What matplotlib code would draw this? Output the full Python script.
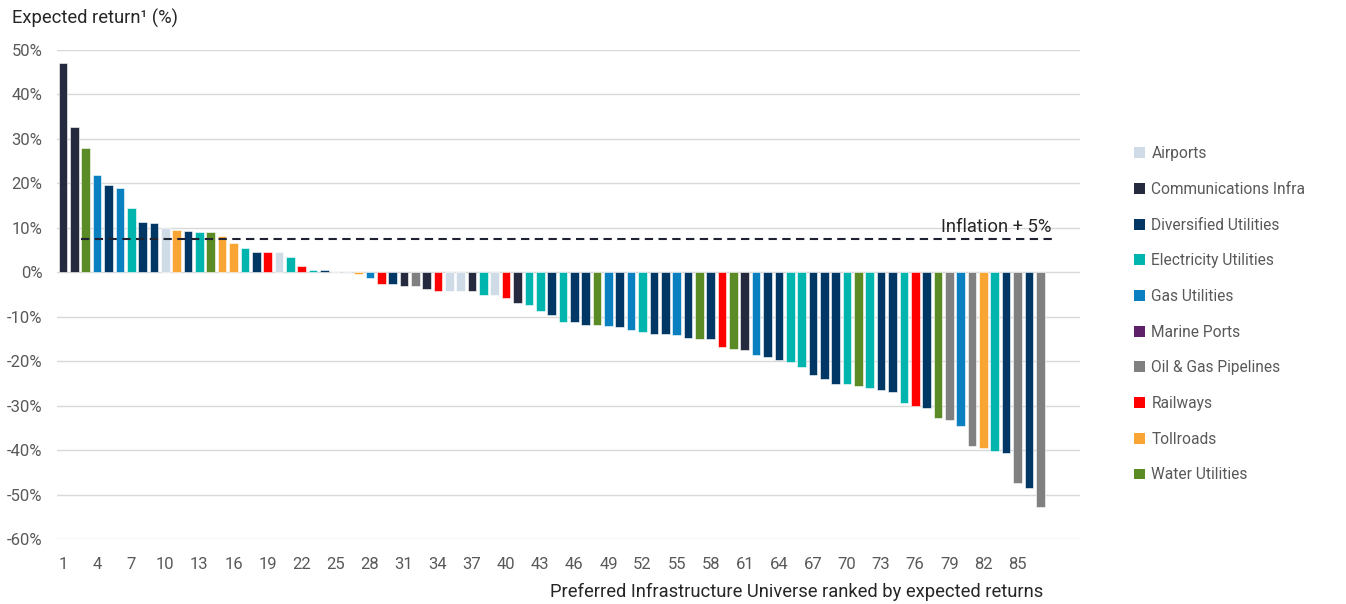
import matplotlib
matplotlib.use("Agg")
import matplotlib.pyplot as plt
from matplotlib.patches import Patch

plt.rcParams['font.family'] = ['Roboto', 'DejaVu Sans']

sectors = ["Airports", "Communications Infra", "Diversified Utilities",
           "Electricity Utilities", "Gas Utilities", "Marine Ports",
           "Oil & Gas Pipelines", "Railways", "Tollroads", "Water Utilities"]
sector_colors = ["#cfdce8", "#252a3e", "#003764", "#00b5ad", "#0a80c0",
                 "#5e2069", "#808080", "#ff0000", "#f9a533", "#5b8b24"]

ranks = list(range(1, 88))
bar_sector = [
    "Communications Infra", "Communications Infra", "Water Utilities", "Gas Utilities",
    "Diversified Utilities", "Gas Utilities", "Electricity Utilities", "Diversified Utilities",
    "Diversified Utilities", "Airports", "Tollroads", "Diversified Utilities",
    "Electricity Utilities", "Water Utilities", "Tollroads", "Tollroads",
    "Electricity Utilities", "Diversified Utilities", "Railways", "Airports",
    "Electricity Utilities", "Railways", "Electricity Utilities", "Diversified Utilities",
    "Airports", "Airports", "Tollroads", "Gas Utilities",
    "Railways", "Diversified Utilities", "Communications Infra", "Oil & Gas Pipelines",
    "Communications Infra", "Railways", "Airports", "Airports",
    "Communications Infra", "Electricity Utilities", "Airports", "Railways",
    "Communications Infra", "Electricity Utilities", "Electricity Utilities", "Diversified Utilities",
    "Electricity Utilities", "Diversified Utilities", "Diversified Utilities", "Water Utilities",
    "Gas Utilities", "Diversified Utilities", "Gas Utilities", "Electricity Utilities",
    "Diversified Utilities", "Diversified Utilities", "Gas Utilities", "Diversified Utilities",
    "Water Utilities", "Diversified Utilities", "Railways", "Water Utilities",
    "Communications Infra", "Gas Utilities", "Diversified Utilities", "Diversified Utilities",
    "Electricity Utilities", "Electricity Utilities", "Diversified Utilities", "Diversified Utilities",
    "Diversified Utilities", "Electricity Utilities", "Water Utilities", "Electricity Utilities",
    "Diversified Utilities", "Diversified Utilities", "Electricity Utilities", "Railways",
    "Diversified Utilities", "Water Utilities", "Oil & Gas Pipelines", "Gas Utilities",
    "Oil & Gas Pipelines", "Tollroads", "Electricity Utilities", "Diversified Utilities",
    "Oil & Gas Pipelines", "Diversified Utilities", "Oil & Gas Pipelines",
]
expected_return = [
    47.0, 32.6, 27.9, 21.9, 19.6, 19.0, 14.4, 11.3, 11.1, 10.0,
    9.5, 9.3, 9.1, 9.1, 8.2, 6.5, 5.5, 4.5, 4.5, 4.5,
    3.4, 1.4, 0.4, 0.4, 0.1, -0.1, -0.45, -1.4, -2.7, -2.7,
    -3.2, -3.2, -3.7, -4.3, -4.3, -4.3, -4.3, -5.0, -5.2, -5.8,
    -6.8, -7.3, -8.8, -9.6, -11.1, -11.2, -11.9, -11.9, -12.1, -12.4,
    -12.9, -13.4, -13.9, -13.9, -14.2, -14.8, -15.0, -15.0, -16.8, -17.3,
    -17.5, -18.6, -19.1, -19.8, -20.1, -21.3, -23.2, -24.0, -25.2, -25.2,
    -25.5, -26.0, -26.5, -27.0, -29.4, -30.1, -30.6, -32.7, -33.2, -34.5,
    -39.0, -39.6, -40.3, -40.6, -47.5, -48.5, -52.8,
]
inflation_plus_5 = 7.5
x_ticks = list(range(1, 86, 3))
y_ticks = list(range(-60, 51, 10))

color_map = dict(zip(sectors, sector_colors))
bar_colors = [color_map[s] for s in bar_sector]

fig = plt.figure(figsize=(13.46, 6.04), dpi=100)
ax = fig.add_axes([57/1346, 1 - 539/604, (1080 - 57)/1346, (539 - 50)/604])

ax.bar(ranks, expected_return, width=0.76, color=bar_colors,
       edgecolor="white", linewidth=0.4, zorder=3)

ax.set_xlim(0.47, 90.5)
ax.set_ylim(-60, 50)
ax.set_yticks(y_ticks)
ax.set_yticklabels([f"{v}%" for v in y_ticks])
ax.set_xticks(x_ticks)
ax.set_xticklabels([str(v) for v in x_ticks])
ax.grid(axis="y", color="#d9d9d9", linewidth=1.0, zorder=0)
ax.grid(axis="x", visible=False)
for sp in ax.spines.values():
    sp.set_visible(False)
ax.tick_params(axis="both", length=0, labelsize=12, labelcolor="#595959")
ax.tick_params(axis="y", pad=10.5)
ax.tick_params(axis="x", pad=13)

ax.hlines(inflation_plus_5, 2.56, 88.5, colors="#1f2233", linestyles=(0, (4, 2.6)),
          linewidth=1.5, zorder=4)
ax.text(88.0, inflation_plus_5 + 0.6, "Inflation + 5%", ha="right", va="bottom",
        fontsize=13.2, color="#262626", zorder=5)

fig.text(12/1346, 1 - 18/604, "Expected return\u00b9 (%)", ha="left", va="center",
         fontsize=13.2, color="#262626")
fig.text(1043/1346, 1 - 592/604,
         "Preferred Infrastructure Universe ranked by expected returns",
         ha="right", va="center", fontsize=13.2, color="#262626")

handles = [Patch(facecolor=c, edgecolor="none", label=s)
           for s, c in zip(sectors, sector_colors)]
leg = fig.legend(handles=handles, loc="upper left",
                 bbox_to_anchor=(1128/1346, 1 - 140/604), frameon=False,
                 fontsize=11.2, handlelength=0.7, handleheight=0.7,
                 handletextpad=0.4, labelspacing=1.33, borderaxespad=0)
for t in leg.get_texts():
    t.set_color("#595959")

fig.savefig("out.png", dpi=100)
